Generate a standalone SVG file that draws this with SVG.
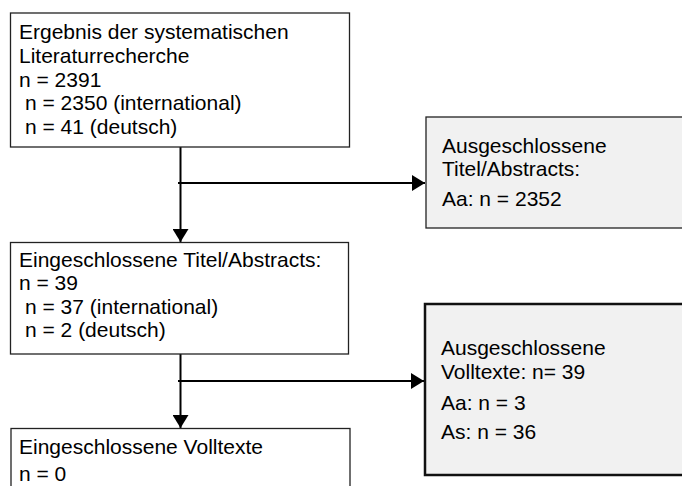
<svg xmlns="http://www.w3.org/2000/svg" width="682" height="486" viewBox="0 0 682 486">
<style>
text{font-family:"Liberation Sans",Arial,sans-serif;font-size:21px;fill:#000}
.box{fill:#fff;stroke:#222;stroke-width:1.3}
.grey{fill:#f1f1f1;stroke:#222;stroke-width:1.3}
.thick{fill:#f1f1f1;stroke:#111;stroke-width:2.5}
.con{stroke:#000;stroke-width:2;fill:none}
</style>
<defs>
<marker id="ah" markerWidth="14" markerHeight="16" refX="13" refY="8" orient="auto" markerUnits="userSpaceOnUse">
<path d="M0,0 L13,8 L0,16 Z" fill="#000"/>
</marker>
</defs>
<rect width="682" height="486" fill="#fff"/>
<g id="connectors">
<line class="con" x1="180.5" y1="147" x2="180.5" y2="242" marker-end="url(#ah)"/>
<line class="con" x1="178" y1="183" x2="425" y2="183" marker-end="url(#ah)"/>
<line class="con" x1="180.5" y1="354" x2="180.5" y2="428" marker-end="url(#ah)"/>
<line class="con" x1="178" y1="381" x2="424" y2="381" marker-end="url(#ah)"/>
</g>
<g id="node1">
<rect class="box" x="10.5" y="13" width="339" height="134"/>
<text x="19" y="39">Ergebnis der systematischen</text>
<text x="19" y="63">Literaturrecherche</text>
<text x="19" y="87">n = 2391</text>
<text x="25" y="110">n = 2350 (international)</text>
<text x="25" y="134">n = 41 (deutsch)</text>
</g>
<g id="node2">
<rect class="grey" x="426" y="117" width="270" height="111"/>
<text x="442" y="153">Ausgeschlossene</text>
<text x="442" y="176">Titel/Abstracts:</text>
<text x="442" y="206">Aa: n = 2352</text>
</g>
<g id="node3">
<rect class="box" x="10.5" y="242.5" width="338" height="111.5"/>
<text x="19" y="267">Eingeschlossene Titel/Abstracts:</text>
<text x="19" y="290">n = 39</text>
<text x="25" y="314">n = 37 (international)</text>
<text x="25" y="337">n = 2 (deutsch)</text>
</g>
<g id="node4">
<rect class="thick" x="425" y="304" width="270" height="171"/>
<text x="441" y="355">Ausgeschlossene</text>
<text x="441" y="379">Volltexte: n= 39</text>
<text x="441" y="410">Aa: n = 3</text>
<text x="441" y="439">As: n = 36</text>
</g>
<g id="node5">
<rect class="box" x="11" y="428.5" width="339" height="80"/>
<text x="19" y="454">Eingeschlossene Volltexte</text>
<text x="19" y="480.5">n = 0</text>
</g>
</svg>
